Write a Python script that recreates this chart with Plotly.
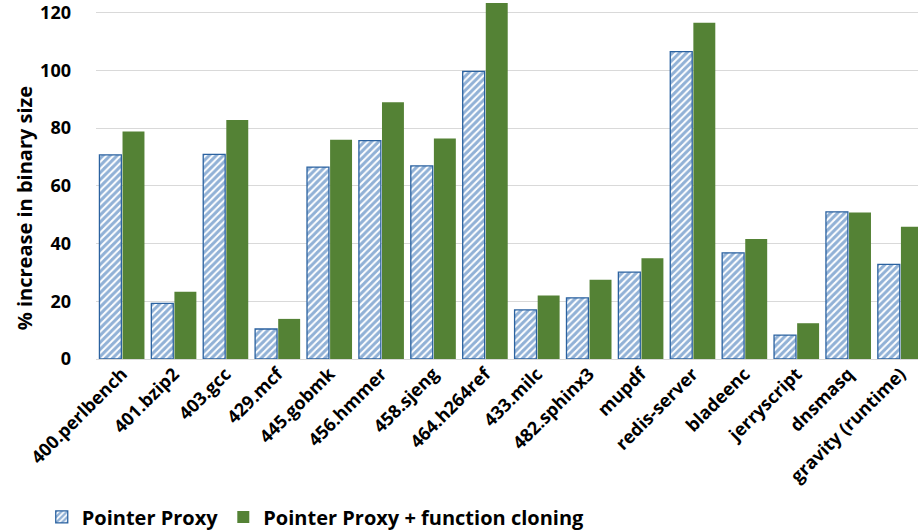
import plotly.graph_objects as go

categories = ["400.perlbench", "401.bzip2", "403.gcc", "429.mcf", "445.gobmk", "456.hmmer",
              "458.sjeng", "464.h264ref", "433.milc", "482.sphinx3", "mupdf", "redis-server",
              "bladeenc", "jerryscript", "dnsmasq", "gravity (runtime)"]
pointer_proxy = [70.7, 19.3, 70.9, 10.4, 66.5, 75.7, 66.9, 99.7, 17.0, 21.2, 30.1, 106.5,
                 36.8, 8.3, 51.0, 32.8]
pp_cloning = [78.8, 23.3, 82.8, 13.9, 76.0, 89.0, 76.4, 123.4, 22.0, 27.5, 34.9, 116.5,
              41.6, 12.4, 50.8, 45.8]
y_title = "% increase in binary size"

FONT = "Open Sans"

fig = go.Figure()
fig.add_trace(go.Bar(
    x=categories, y=pointer_proxy, name="Pointer Proxy",
    marker=dict(color="white", line=dict(color="#2b62a0", width=1.3),
                pattern=dict(shape="/", fgcolor="#2364ae", bgcolor="white", size=5, solidity=0.6)),
))
fig.add_trace(go.Bar(
    x=categories, y=pp_cloning, name="Pointer Proxy + function cloning",
    marker=dict(color="#548235", line=dict(color="#548235", width=0)),
))

fig.update_layout(
    width=918, height=531,
    margin=dict(l=96, r=0, t=0, b=172, autoexpand=False),
    paper_bgcolor="white", plot_bgcolor="white",
    barmode="group", bargap=0.11, bargroupgap=0.05,
    font=dict(family=FONT, color="black", size=16, weight="bold"),
    showlegend=True,
    legend=dict(orientation="h", x=-0.066, xanchor="left", y=-0.44, yanchor="middle",
                font=dict(family=FONT, size=20, weight="bold"), traceorder="normal",
                itemwidth=30, bgcolor="rgba(0,0,0,0)"),
    xaxis=dict(range=[-0.5, 15.34], tickangle=-45, showgrid=False, showline=False,
               ticks="", automargin=False,
               tickfont=dict(family=FONT, size=18, weight="bold")),
    yaxis=dict(range=[0, 124.4], tickvals=[0, 20, 40, 60, 80, 100, 120],
               showgrid=True, gridcolor="#d9d9d9", gridwidth=1,
               zeroline=True, zerolinecolor="#d9d9d9", zerolinewidth=1,
               ticks="", ticklabelstandoff=24, automargin=False,
               tickfont=dict(family=FONT, size=18, weight="bold")),
    annotations=[dict(text=y_title, textangle=-90, xref="paper", yref="paper",
                      x=-0.0876, y=0.42, xanchor="center", yanchor="middle",
                      showarrow=False, font=dict(family=FONT, size=20, weight="bold"))],
)

fig.write_html("out.html", config={"displayModeBar": False},
               post_script="document.body.style.margin='0';document.body.style.overflow='hidden';")
